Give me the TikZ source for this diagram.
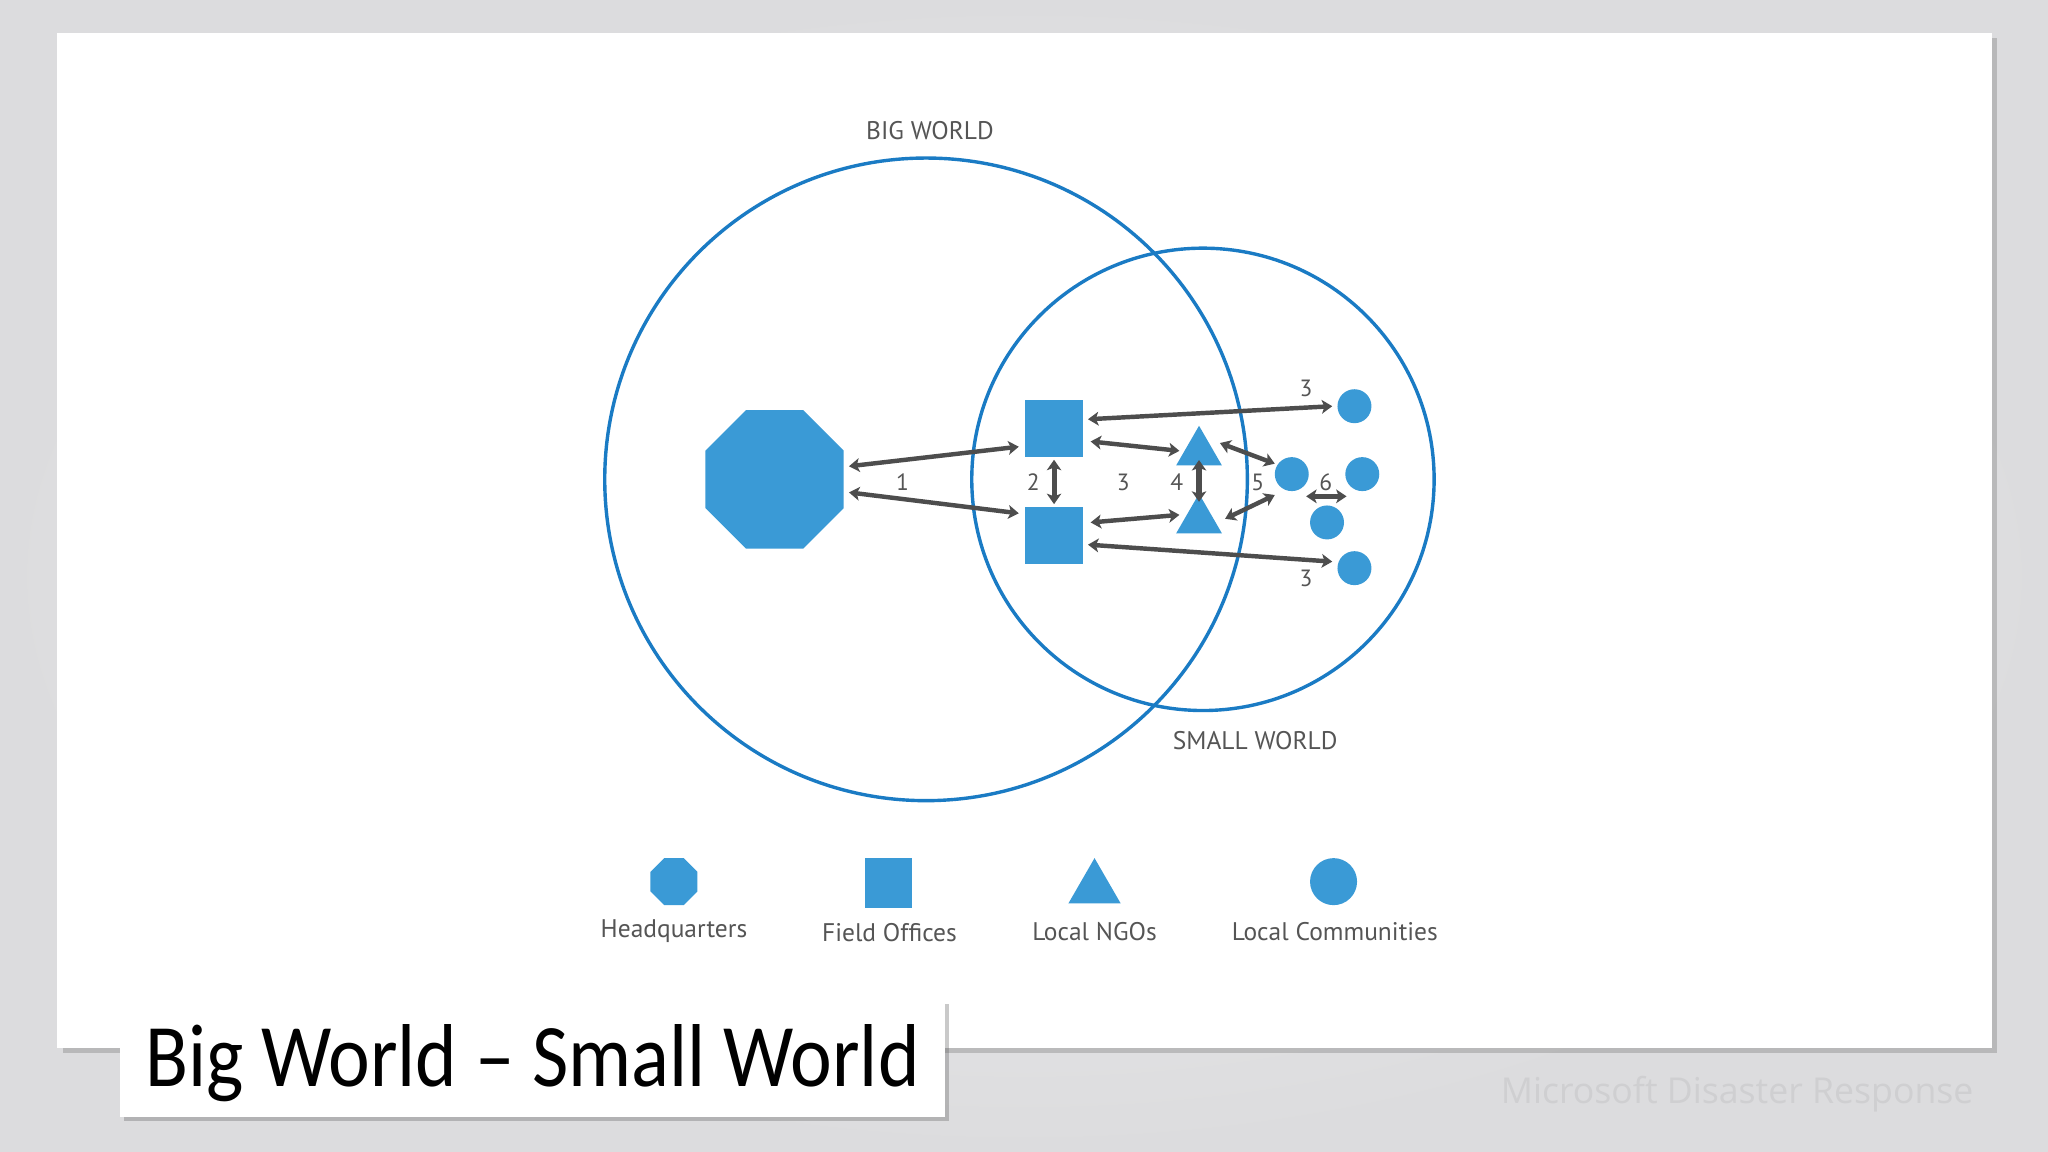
\documentclass[tikz,border=0pt]{standalone}
\usepackage{fontspec}
\setmainfont{PT Sans}
\newfontfamily\titlefont{Carlito}
\newfontfamily\wmfont{Open Sans}
\usetikzlibrary{shapes.geometric,arrows.meta,shadows}
\definecolor{bluefill}{HTML}{3A9AD6}
\definecolor{bluering}{HTML}{1A7BC4}
\definecolor{arrgray}{HTML}{4D4D4D}
\definecolor{labgray}{HTML}{555555}
\definecolor{bginner}{HTML}{EFEFF0}
\definecolor{bgouter}{HTML}{DCDCDE}
\definecolor{wmgray}{HTML}{CFCFD1}
\tikzset{
  shp/.style={fill=bluefill,draw=none,inner sep=0pt,outer sep=0pt},
  oct/.style={shp,regular polygon,regular polygon sides=8},
  tri/.style={shp,regular polygon,regular polygon sides=3},
  sq/.style={shp,rectangle},
  com/.style={shp,circle,minimum size=26pt},
  ring/.style={draw=bluering,line width=2.6pt},
  arr/.style={draw=arrgray,line width=3.4pt,{Stealth[length=8pt,width=10.5pt,inset=2pt]}-{Stealth[length=8pt,width=10.5pt,inset=2pt]}},
  varr/.style={draw=arrgray,line width=3.9pt,{Stealth[length=8pt,width=11pt,inset=2pt]}-{Stealth[length=8pt,width=11pt,inset=2pt]}},
  num/.style={text=labgray,font=\fontsize{18}{21}\selectfont,inner sep=0pt},
  lab/.style={text=labgray,font=\fontsize{19.5}{23}\selectfont,inner sep=0pt},
}
\begin{document}
\begin{tikzpicture}[x=1pt,y=-1pt]
\useasboundingbox (0,0) rectangle (1568,882);
% background
\shade[inner color=bginner,outer color=bgouter] (0,0) rectangle (1568,882);
% slide
\node[name=slide,fill=white,minimum width=1481pt,minimum height=777pt,inner sep=0pt,
  drop shadow={shadow xshift=4pt,shadow yshift=-4pt,opacity=0.3,fill=black!60}] at (784.5,413.5) {};
% watermark
\node[name=wm,text=wmgray,font=\wmfont\fontsize{27.3}{32}\selectfont,inner sep=0pt] at (1330,838) {Microsoft Disaster Response};
% title box
\node[name=titlebox,fill=white,minimum width=632pt,minimum height=89pt,inner sep=0pt,
  drop shadow={shadow xshift=3pt,shadow yshift=-3pt,opacity=0.35,fill=black!60}] at (407.6,810.5) {};
\node[name=title,anchor=base west,inner sep=0pt,font=\titlefont\fontsize{60.5}{70}\selectfont] at (111,831.5) {\scalebox{1}[1.13]{Big World – Small World}};
% worlds
\node[name=big,circle,ring,minimum size=492pt,inner sep=0pt] at (709,367) {};
\node[name=small,circle,ring,minimum size=354pt,inner sep=0pt] at (921,367) {};
\node[name=bigl,lab] at (712,100) {BIG WORLD};
\node[name=smalll,lab] at (961,567) {SMALL WORLD};
% shapes
\node[name=hq,oct,minimum size=114.7pt] at (593,367) {};
\node[name=fo1,sq,minimum size=44pt] at (807,328) {};
\node[name=fo2,sq,minimum size=44pt] at (807,410) {};
\node[name=ngo1,tri,minimum size=40.4pt] at (918,346.2) {};
\node[name=ngo2,tri,minimum size=40.4pt] at (918,398.2) {};
\node[name=c1,com] at (1037,311) {};
\node[name=c2,com] at (989,363) {};
\node[name=c3,com] at (1043,363) {};
\node[name=c4,com] at (1016,400) {};
\node[name=c5,com] at (1037,435) {};
% connectors
\draw[arr] ([shift={(4,-10)}]hq.east) -- ([shift={(-5,14)}]fo1.west);
\draw[arr] ([shift={(4,10)}]hq.east) -- ([shift={(-5,-17)}]fo2.west);
\draw[varr] ([shift={(0,2)}]fo1.south) -- ([shift={(0,-2)}]fo2.north);
\draw[arr] ([shift={(4,-7)}]fo1.east) -- ([shift={(-4,0)}]c1.west);
\draw[arr] ([shift={(6,10)}]fo1.east) -- ([shift={(-15,-1)}]ngo1.center);
\draw[arr] ([shift={(6,-10)}]fo2.east) -- ([shift={(-15,-4)}]ngo2.center);
\draw[arr] ([shift={(4,7)}]fo2.east) -- ([shift={(-4,-5)}]c5.west);
\draw[varr] ([shift={(0,6)}]ngo1.center) -- ([shift={(0,-14)}]ngo2.center);
\draw[arr] ([shift={(16,-7)}]ngo1.center) -- ([shift={(-13,-8)}]c2.center);
\draw[arr] ([shift={(20,-1)}]ngo2.center) -- ([shift={(-13,16)}]c2.center);
\draw[arr] ([shift={(11,17)}]c2.center) -- ([shift={(-12,17)}]c3.center);
% numbers
\node[name=n1,num] at (691,369) {1};
\node[name=n2,num] at (791,369) {2};
\node[name=n3,num] at (860,369) {3};
\node[name=n4,num] at (901,369) {4};
\node[name=n5,num] at (963,369) {5};
\node[name=n6,num] at (1015,369) {6};
\node[name=n3a,num] at (1000,297) {3};
\node[name=n3b,num] at (1000,443) {3};
% legend
\node[name=lhq,oct,minimum size=39pt] at (516,675) {};
\node[name=lfo,sq,minimum width=36pt,minimum height=38pt] at (680,676) {};
\node[name=lngo,tri,minimum size=46.2pt] at (838,680.1) {};
\node[name=lcom,shp,circle,minimum size=36pt] at (1021,675) {};
\node[name=lhqt,lab] at (516,713) {Headquarters};
\node[name=lfot,lab] at (681,714) {Field Offices};
\node[name=lngot,lab] at (838,713) {Local NGOs};
\node[name=lcomt,lab] at (1022,713) {Local Communities};
\end{tikzpicture}
\end{document}
